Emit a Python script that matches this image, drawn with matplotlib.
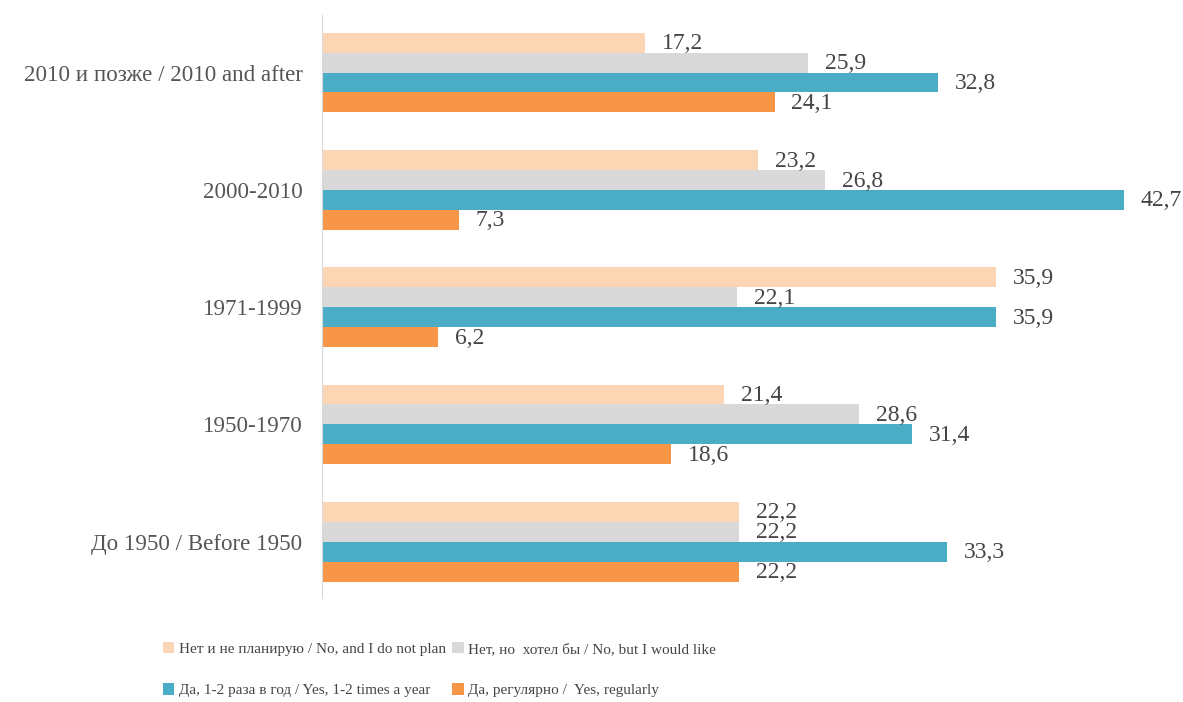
import matplotlib.pyplot as plt
import numpy as np

categories = ["До 1950 / Before 1950", "1950-1970", "1971-1999", "2000-2010", "2010 и позже / 2010 and after"]
no_plan = [22.2, 21.4, 35.9, 23.2, 17.2]
no_like = [22.2, 28.6, 22.1, 26.8, 25.9]
yes_year = [33.3, 31.4, 35.9, 42.7, 32.8]
yes_reg = [22.2, 18.6, 6.2, 7.3, 24.1]

series = [
    ("Нет и не планирую / No, and I do not plan", no_plan, "#FCD5B5"),
    ("Нет, но  хотел бы / No, but I would like", no_like, "#D9D9D9"),
    ("Да, 1-2 раза в год / Yes, 1-2 times a year", yes_year, "#4BACC6"),
    ("Да, регулярно /  Yes, regularly", yes_reg, "#F79646"),
]

plt.rcParams['font.family'] = ['Liberation Serif', 'DejaVu Serif']
txt = "#454545"

fig = plt.figure(figsize=(11.83, 7.02), dpi=100)
ax = fig.add_axes([0.2722, 0.1481, 0.7143, 0.8305])

y = np.arange(len(categories))
h = 0.17
offsets = [1.5 * h, 0.5 * h, -0.5 * h, -1.5 * h]
handles = []
for (name, vals, col), off in zip(series, offsets):
    bars = ax.barh(y + off, vals, height=h, color=col, label=name)
    handles.append(bars)
    for b, v in zip(bars, vals):
        ax.text(b.get_width() + 0.9, b.get_y() + h / 2 - 0.01, f"{v:.1f}".replace(".", ","),
                va="center", ha="left", fontsize=17, color=txt)

ax.set_xlim(0, 45)
ax.set_ylim(-0.48, 4.49)
ax.set_yticks(y)
ax.set_yticklabels(categories, fontsize=16.6, color="#555555")
ax.tick_params(axis="y", length=0, pad=14)
ax.set_xticks([])
for s in ["top", "right", "bottom"]:
    ax.spines[s].set_visible(False)
ax.spines["left"].set_color("#D9D9D9")

# row-major order like the original
order = [0, 2, 1, 3]
fig.legend([handles[i] for i in order], [series[i][0] for i in order],
           loc="lower left", bbox_to_anchor=(0.126, -0.013), ncol=2, frameon=False,
           fontsize=11, labelcolor=txt, handlelength=0.75, handleheight=0.75,
           handletextpad=0.3, columnspacing=0.4, labelspacing=1.8)

fig.savefig("out.png", dpi=100)
